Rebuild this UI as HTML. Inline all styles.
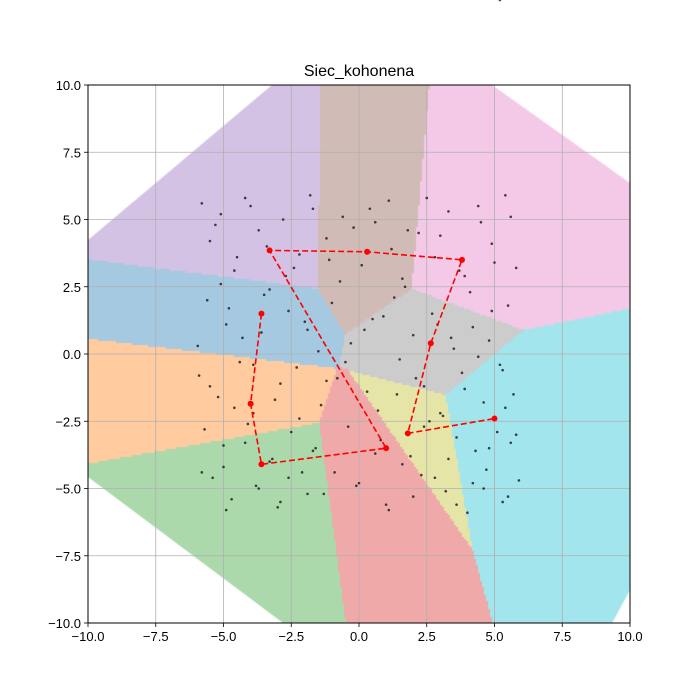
<!DOCTYPE html>
<html><head><meta charset="utf-8"><style>
body{margin:0;background:#fff;}
#wrap{position:relative;width:700px;height:700px;font-family:"Liberation Sans",sans-serif;}
canvas,svg{position:absolute;left:0;top:0;}
</style></head><body>
<div id="wrap">
<canvas id="cv" width="700" height="700"></canvas>
<svg id="sv" width="700" height="700"></svg>
</div>
<script>
const neuronX=[-3.6,-4.0,-3.6,1.0,-3.3,0.3,3.8,2.65,1.8,5.0];
const neuronY=[1.5,-1.85,-4.1,-3.5,3.85,3.8,3.5,0.4,-2.95,-2.4];
const regionColors=["#a5c9e1","#ffcb9f","#abd9ab","#efa9a9","#d4c2e5","#d1bbb7","#f4c9e7","#cccccc","#e4e5a7","#a2e5ec"];
const hullX=[-10,-3.21,4.91,10,10,9.34,-2.8,-10];
const hullY=[4.24,10,10,6.36,-8.77,-10,-10,-4.57];
const pointsX=[-5.8,-5.5,-5.1,-4.6,-4.2,-3.7,-3.3,-2.8,-2.2,-1.7,-1.2,-0.6,0.1,0.6,1.1,1.6,2.2,2.8,3.3,3.9,4.4,4.9,5.4,5.8,
-5.6,-4.9,-4.3,-3.5,-2.6,-1.9,-1.0,-0.3,0.5,1.3,2.0,2.7,3.5,4.2,4.8,5.5,
-5.9,-5.2,-4.4,-3.9,-2.9,-2.3,-1.4,-0.8,0.3,1.5,2.4,3.1,3.8,4.6,5.2,5.7,
-5.7,-5.0,-4.1,-3.2,-2.5,-1.6,-0.4,0.8,1.9,2.6,3.6,4.3,5.1,5.6,
-5.4,-4.7,-3.8,-3.0,-2.1,-1.3,0.0,1.0,2.3,3.2,4.0,4.7,5.3,5.9,
-5.3,-4.5,-4.0,-3.4,-2.4,-1.8,-1.1,-0.2,0.4,1.2,1.8,2.5,3.0,3.7,4.5,5.0,5.6,
-5.95,-5.1,-4.8,-3.6,-2.7,-2.0,-1.5,-0.7,0.2,0.9,1.7,2.9,3.4,4.1,4.9,5.3,
-5.5,-4.6,-3.9,-3.1,-2.2,-1.2,-0.5,0.7,1.4,2.1,3.0,3.9,4.4,5.4,5.8,
-5.0,-4.2,-3.3,-2.6,-1.7,-0.9,0.6,1.6,2.4,3.3,4.2,4.8,5.5,
-5.8,-4.9,-3.7,-2.9,-1.9,-0.1,1.1,2.0,2.8,3.6,4.6,5.2];
const pointsY=[5.6,4.2,5.2,3.1,5.8,4.6,2.4,5.0,3.7,5.4,4.3,5.1,3.3,4.9,5.7,2.8,4.5,3.6,5.3,2.9,5.5,4.1,5.9,3.2,
2.0,1.1,0.6,2.2,1.6,0.9,1.9,0.4,1.3,2.1,0.7,1.5,0.2,1.0,0.5,1.8,
-0.8,-1.6,-0.3,-2.2,-1.1,-0.5,-1.9,-0.9,-1.4,-0.2,-1.2,-2.3,-0.7,-1.8,-0.4,-1.5,
-2.8,-3.4,-2.6,-3.9,-2.9,-3.5,-2.7,-3.2,-3.8,-2.5,-3.1,-3.6,-2.9,-3.3,
-4.6,-5.4,-4.9,-5.7,-4.4,-5.2,-4.8,-5.6,-4.5,-5.1,-5.9,-4.3,-5.5,-4.7,
4.8,3.6,5.5,4.0,3.2,5.9,3.5,4.7,5.4,3.9,4.6,5.8,4.4,3.1,4.9,3.4,5.1,
0.3,2.6,1.7,0.8,2.9,1.2,0.1,2.7,0.9,1.4,2.5,1.1,0.6,2.3,1.6,
-0.6,-1.2,-2.0,-0.4,-1.7,-2.4,-1.0,-0.3,-2.1,-1.5,-0.9,-2.2,-1.3,-0.1,-2.0,
-3.0,-4.2,-3.3,-4.0,-4.6,-3.6,-4.4,-3.7,-4.1,-2.7,-3.9,-4.8,-3.5,
-5.3,-4.4,-5.8,-5.0,-5.5,-5.2,-4.9,-5.8,-5.3,-4.6,-5.6,-5.0];
const tickVals=[-10,-7.5,-5,-2.5,0,2.5,5,7.5,10];
const tickLabels=["\u221210.0","\u22127.5","\u22125.0","\u22122.5","0.0","2.5","5.0","7.5","10.0"];

const L=88,R=630,T=85,B=623;
const sx=v=>L+(v+10)*(R-L)/20, sy=v=>T+(10-v)*(B-T)/20;
const ix=p=>(p-L)*20/(R-L)-10, iy=p=>10-(p-T)*20/(B-T);

// regions
const ctx=document.getElementById('cv').getContext('2d');
ctx.beginPath();
hullX.forEach((x,i)=>{if(i===0)ctx.moveTo(sx(x),sy(hullY[i]));else ctx.lineTo(sx(x),sy(hullY[i]));});
ctx.closePath();ctx.clip();
for(let py=T;py<B;py+=2){for(let px=L;px<R;px+=2){
 const x=ix(px+1),y=iy(py+1);let bi=0,bd=1e9;
 for(let i=0;i<neuronX.length;i++){const d=(x-neuronX[i])**2+(y-neuronY[i])**2;if(d<bd){bd=d;bi=i;}}
 ctx.fillStyle=regionColors[bi];ctx.fillRect(px,py,2,2);}}

const sv=document.getElementById('sv');const NS="http://www.w3.org/2000/svg";
function mk(tag,attrs,parent){const e=document.createElementNS(NS,tag);for(const k in attrs)e.setAttribute(k,attrs[k]);(parent||sv).appendChild(e);return e;}
// grid
tickVals.forEach((v,i)=>{
 const gx=mk('line',{x1:sx(v),x2:sx(v),y1:T,y2:B,stroke:'#b0b0b0','stroke-width':0.8});
 
 
 const gy=mk('line',{x1:L,x2:R,y1:sy(v),y2:sy(v),stroke:'#b0b0b0','stroke-width':0.8});
 
 
 mk('line',{x1:sx(v),x2:sx(v),y1:B,y2:B+4,stroke:'#000','stroke-width':0.8});
 mk('line',{x1:L-4,x2:L,y1:sy(v),y2:sy(v),stroke:'#000','stroke-width':0.8});
 const tx=mk('text',{x:sx(v),y:B+18,'text-anchor':'middle','font-size':13});tx.textContent=tickLabels[i];
 
 
 const ty=mk('text',{x:L-7,y:sy(v)+5,'text-anchor':'end','font-size':13});ty.textContent=tickLabels[i];
 
 
});
// points
pointsX.forEach((x,i)=>{const c=mk('circle',{cx:sx(x),cy:sy(pointsY[i]),r:1.3,fill:'#222','fill-opacity':0.85});
 
 });
// neuron path
const pl=mk('polyline',{points:neuronX.map((x,i)=>sx(x)+','+sy(neuronY[i])).join(' '),fill:'none',stroke:'red','stroke-width':1.6,'stroke-dasharray':'6,3'});


neuronX.forEach((x,i)=>{const c=mk('circle',{cx:sx(x),cy:sy(neuronY[i]),r:3,fill:'red'});
 
 });
const fr=mk('rect',{x:L,y:T,width:R-L,height:B-T,fill:'none',stroke:'#000','stroke-width':1});


const tt=mk('text',{x:(L+R)/2,y:76,'text-anchor':'middle','font-size':16});tt.textContent='Siec_kohonena';


</script>
</body></html>
